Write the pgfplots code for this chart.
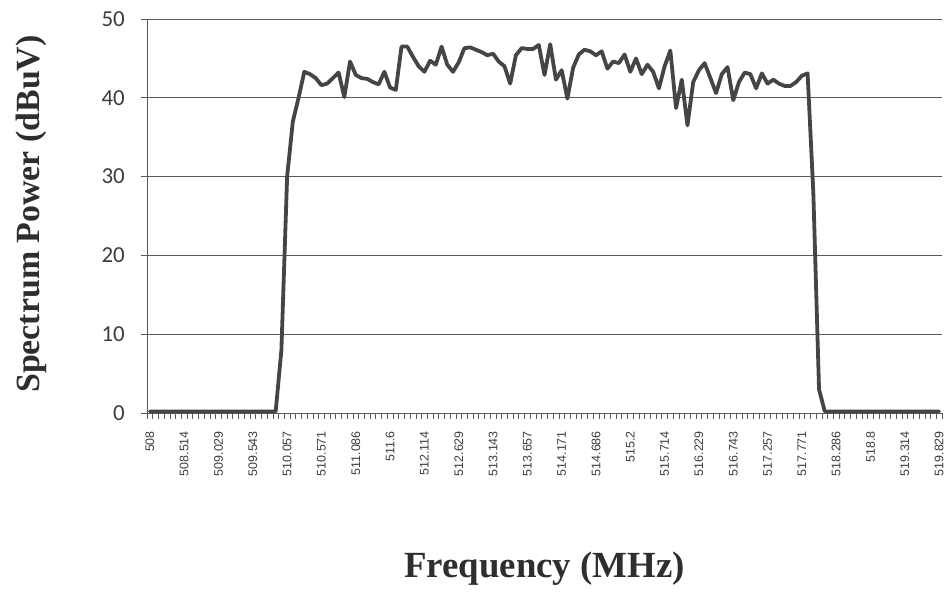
\documentclass[border=0pt]{standalone}
\usepackage{pgfplots}
\pgfplotsset{compat=1.18}
\usepackage{pgfplotstable}
\usepackage{fontspec}
\setmainfont{Liberation Serif}
\newfontfamily\calib{Carlito}
\newfontfamily\arialf{Liberation Sans}
\definecolor{curve}{HTML}{454545}
\definecolor{gridc}{HTML}{5A5A5A}
\definecolor{tickc}{HTML}{3C3C3C}
\definecolor{titlec}{HTML}{2E2E2E}
\pgfplotstableread{
idx val
0 0.2
1 0.2
2 0.2
3 0.2
4 0.2
5 0.2
6 0.2
7 0.2
8 0.2
9 0.2
10 0.2
11 0.2
12 0.2
13 0.2
14 0.2
15 0.2
16 0.2
17 0.2
18 0.2
19 0.2
20 0.2
21 0.2
22 0.2
23 8
24 30
25 37
26 40
27 43.3
28 43.0
29 42.5
30 41.6
31 41.8
32 42.5
33 43.2
34 40.1
35 44.6
36 42.9
37 42.5
38 42.4
39 42.0
40 41.7
41 43.3
42 41.3
43 41.0
44 46.5
45 46.5
46 45.2
47 44.0
48 43.3
49 44.7
50 44.2
51 46.5
52 44.2
53 43.3
54 44.5
55 46.3
56 46.4
57 46.1
58 45.8
59 45.4
60 45.6
61 44.6
62 44.0
63 41.8
64 45.4
65 46.3
66 46.2
67 46.2
68 46.7
69 42.9
70 46.8
71 42.3
72 43.5
73 39.9
74 43.8
75 45.5
76 46.1
77 45.9
78 45.4
79 45.9
80 43.7
81 44.6
82 44.4
83 45.5
84 43.3
85 45.0
86 43.0
87 44.2
88 43.3
89 41.2
90 44.0
91 46.0
92 38.7
93 42.3
94 36.5
95 42.0
96 43.5
97 44.4
98 42.5
99 40.6
100 43.0
101 43.9
102 39.7
103 42.0
104 43.2
105 43.0
106 41.2
107 43.1
108 41.8
109 42.3
110 41.8
111 41.5
112 41.5
113 42.0
114 42.8
115 43.1
116 28
117 3
118 0.2
119 0.2
120 0.2
121 0.2
122 0.2
123 0.2
124 0.2
125 0.2
126 0.2
127 0.2
128 0.2
129 0.2
130 0.2
131 0.2
132 0.2
133 0.2
134 0.2
135 0.2
136 0.2
137 0.2
138 0.2
}\spectrum
\begin{document}
\begin{tikzpicture}
\useasboundingbox (0,0) rectangle (945bp,595bp);
\begin{axis}[
  at={(147bp,182bp)}, anchor=south west,
  scale only axis, width=795bp, height=394bp,
  xmin=-0.5, xmax=138.5, ymin=0, ymax=50,
  axis lines*=left,
  axis line style={gridc, line width=0.8bp},
  x axis line style={-}, y axis line style={-},
  ytick={0,10,...,50},
  ymajorgrids, grid style={gridc, line width=0.8bp},
  ytick style={gridc, line width=0.8bp},
  tick align=outside,
  major tick length=6bp,
  xtick={-0.5,0.5,...,138.5},
  xticklabels={},
  xtick style={gridc, line width=0.6bp},
  extra x ticks={0,6,12,18,24,30,36,42,48,54,60,66,72,78,84,90,96,102,108,114,120,126,132,138},
  extra x tick labels={508,508.514,509.029,509.543,510.057,510.571,511.086,511.6,512.114,512.629,513.143,513.657,514.171,514.686,515.2,515.714,516.229,516.743,517.257,517.771,518.286,518.8,519.314,519.829},
  extra x tick style={major tick length=0pt, xticklabel style={yshift=-18bp, rotate=90, anchor=east, font=\arialf\fontsize{12.5}{13}\selectfont, text=tickc, inner sep=0pt}},
  yticklabel style={font=\calib\fontsize{23}{24}\selectfont, text=tickc, inner sep=0pt, xshift=-16bp},
  /pgf/number format/assume math mode=true,
  xlabel={Frequency (MHz)},
  ylabel={Spectrum Power (dBuV)},
  xlabel style={at={(axis description cs:0.5,-0.395)}, anchor=center, font=\bfseries\fontsize{37}{40}\selectfont, text=titlec},
  ylabel style={at={(axis description cs:-0.145,0.505)}, anchor=center, rotate=0, font=\bfseries\fontsize{34}{38}\selectfont, text=titlec},
  clip=false,
]
\addplot[curve, line width=3.8bp, line join=round, line cap=round] table[x=idx, y=val] {\spectrum};
\end{axis}
\end{tikzpicture}
\end{document}
